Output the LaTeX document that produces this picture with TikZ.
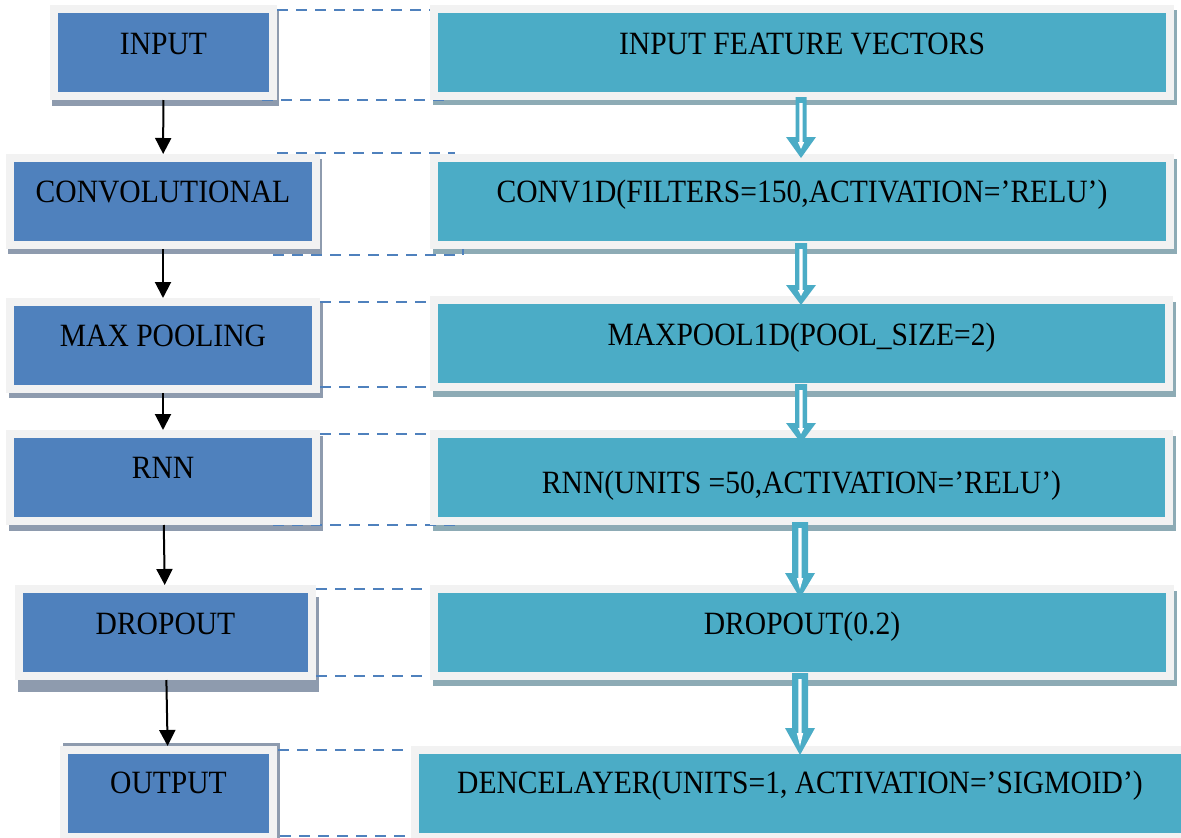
\documentclass[tikz,border=0pt]{standalone}
\usepackage{fontspec}
\setmainfont[FakeStretch=0.91]{Liberation Serif}
\usetikzlibrary{arrows.meta,backgrounds,calc}

\definecolor{boxblue}{HTML}{4F81BD}
\definecolor{boxteal}{HTML}{4BACC6}
\definecolor{framegray}{HTML}{F2F2F2}
\definecolor{shadeblue}{HTML}{8E9BAE}
\definecolor{shadeteal}{HTML}{8DABB5}
\definecolor{dashblue}{HTML}{4F81BD}

% A framed layer box: the coloured area is (x1,y1)-(x2,y2), the text baseline sits at y = baseline.
% #1 style, #2 name, #3 x1, #4 y1, #5 x2, #6 y2, #7 baseline, #8 text
\newcommand\layerbox[8]{%
  \pgfmathsetmacro\lyW{#5-#3+8}%
  \pgfmathsetmacro\lyH{#7-#4+4}%
  \pgfmathsetmacro\lyD{#6-#7+4}%
  \node[#1, minimum width=\lyW pt, text height=\lyH pt, text depth=\lyD pt,
        anchor=north west] (#2) at (#3-8,#4-8) {#8};%
}

% Hollow block arrow between two boxes.
% #1 from, #2 to, #3 x, #4 start above the lower edge of #1, #5 tip below the upper edge of #2,
% #6 shaft half width, #7 head length, #8 head half width
\newcommand\hollowdown[8]{%
  \fill[boxteal] let \p1=(#1.south), \p2=(#2.north) in
    (#3pt-#6pt,\y1+#4pt) -- (#3pt+#6pt,\y1+#4pt) -- (#3pt+#6pt,\y2-#5pt+#7pt)
    -- (#3pt+#8pt,\y2-#5pt+#7pt) -- (#3pt,\y2-#5pt) -- (#3pt-#8pt,\y2-#5pt+#7pt)
    -- (#3pt-#6pt,\y2-#5pt+#7pt) -- cycle;
  \fill[white] let \p1=(#1.south), \p2=(#2.north) in
    (#3pt-1.7pt,\y1+#4pt-6pt) -- (#3pt+1.7pt,\y1+#4pt-6pt) -- (#3pt+1.7pt,\y2-#5pt+#7pt-5pt)
    -- (#3pt+3.2pt,\y2-#5pt+#7pt-5pt) -- (#3pt,\y2-#5pt+9pt) -- (#3pt-3.2pt,\y2-#5pt+#7pt-5pt)
    -- (#3pt-1.7pt,\y2-#5pt+#7pt-5pt) -- cycle;
}

\tikzset{
  layerfont/.style={font=\fontsize{32.5}{36}\selectfont, text=black},
  leftbox/.style={layerfont, fill=boxblue, draw=framegray, line width=8pt,
                  outer sep=4pt, inner sep=0pt},
  rightbox/.style={layerfont, fill=boxteal, draw=framegray, line width=8pt,
                   outer sep=4pt, inner sep=0pt},
  flowarrow/.style={draw=black, line width=2pt, -{Triangle[length=16pt,width=16pt]}},
  dashline/.style={draw=dashblue, line width=2.7pt, dash pattern=on 11pt off 8pt},
}

\begin{document}
\begin{tikzpicture}[x=1pt,y=-1pt]
  \useasboundingbox (0,0) rectangle (1181,838);

  % model stages
  \layerbox{leftbox}{L1}{58}{13}{269}{92}{54}{INPUT}
  \layerbox{leftbox}{L2}{14}{162}{312}{241}{202}{CONVOLUTIONAL}
  \layerbox{leftbox}{L3}{14}{306}{312}{385}{346}{MAX POOLING}
  \layerbox{leftbox}{L4}{14}{438}{312}{517}{478}{RNN}
  \layerbox{leftbox}{L5}{23}{593}{308}{672}{634}{DROPOUT}
  \layerbox{leftbox}{L6}{68}{754}{269}{833}{793}{OUTPUT}

  % layer settings
  \layerbox{rightbox}{R1}{438}{13}{1166}{92}{54}{INPUT FEATURE VECTORS}
  \layerbox{rightbox}{R2}{438}{162}{1166}{241}{202}{CONV1D(FILTERS=150,ACTIVATION=’RELU’)}
  \layerbox{rightbox}{R3}{438}{304}{1165}{383}{345}{MAXPOOL1D(POOL\_SIZE=2)}
  \layerbox{rightbox}{R4}{438}{438}{1165}{517}{493}{RNN(UNITS =50,ACTIVATION=’RELU’)}
  \layerbox{rightbox}{R5}{438}{593}{1166}{672}{634}{DROPOUT(0.2)}
  \layerbox{rightbox}{R6}{419}{754}{1181}{833}{793}{DENCELAYER(UNITS=1, ACTIVATION=’SIGMOID’)}

  \begin{pgfonlayer}{background}
    % page
    \fill[white] (0,0) rectangle (1181,838);
    % drop shadows
    \foreach \n/\dx/\dy/\c in {L1/2/-6/shadeblue, L2/2/-5/shadeblue, L3/3/-5/shadeblue,
                               L4/3/-6/shadeblue, L5/3/-12/shadeblue, L6/3/3/shadeblue,
                               R1/3/-5/shadeteal, R2/3/-5/shadeteal, R3/3/-6/shadeteal,
                               R4/3/-6/shadeteal, R5/3/-6/shadeteal}
      \fill[\c] ([xshift=\dx pt,yshift=\dy pt]\n.north west)
                rectangle ([xshift=\dx pt,yshift=\dy pt]\n.south east);
    % dashed group outlines between each stage and its settings
    \draw[dashline] (277,10) -- (430,10);
    \draw[dashline] (262,100) -- (452,100);
    \draw[dashline] (277,153) -- (455,153);
    \draw[dashline] (273,255) -- (463,255) -- (463,248);
    \draw[dashline] (320,302) -- (430,302);
    \draw[dashline] (320,387) -- (430,387);
    \draw[dashline] (320,434) -- (427,434);
    \draw[dashline] (273,525) -- (463,525);
    \draw[dashline] (316,589) -- (422,589);
    \draw[dashline] (316,676) -- (430,676);
    \draw[dashline] (278,750) -- (410,750);
    \draw[dashline] (280,836) -- (410,836);
  \end{pgfonlayer}

  % stage flow
  \draw[flowarrow] (L1) -- (L2);
  \draw[flowarrow] (L2) -- (L3);
  \draw[flowarrow] (L3) -- (L4);
  \draw[flowarrow] (L4) -- (L5);
  \draw[flowarrow] (L5) -- (L6);

  % settings flow
  \hollowdown{R1}{R2}{801}{3}{4}{5.5}{21}{15}
  \hollowdown{R2}{R3}{801}{6}{9}{6}{20}{15}
  \hollowdown{R3}{R4}{801}{7}{13}{6}{20}{15}
  \hollowdown{R4}{R5}{800}{3}{13}{8}{25}{15}
  \hollowdown{R5}{R6}{800}{7}{9}{8}{27}{15}
\end{tikzpicture}
\end{document}
